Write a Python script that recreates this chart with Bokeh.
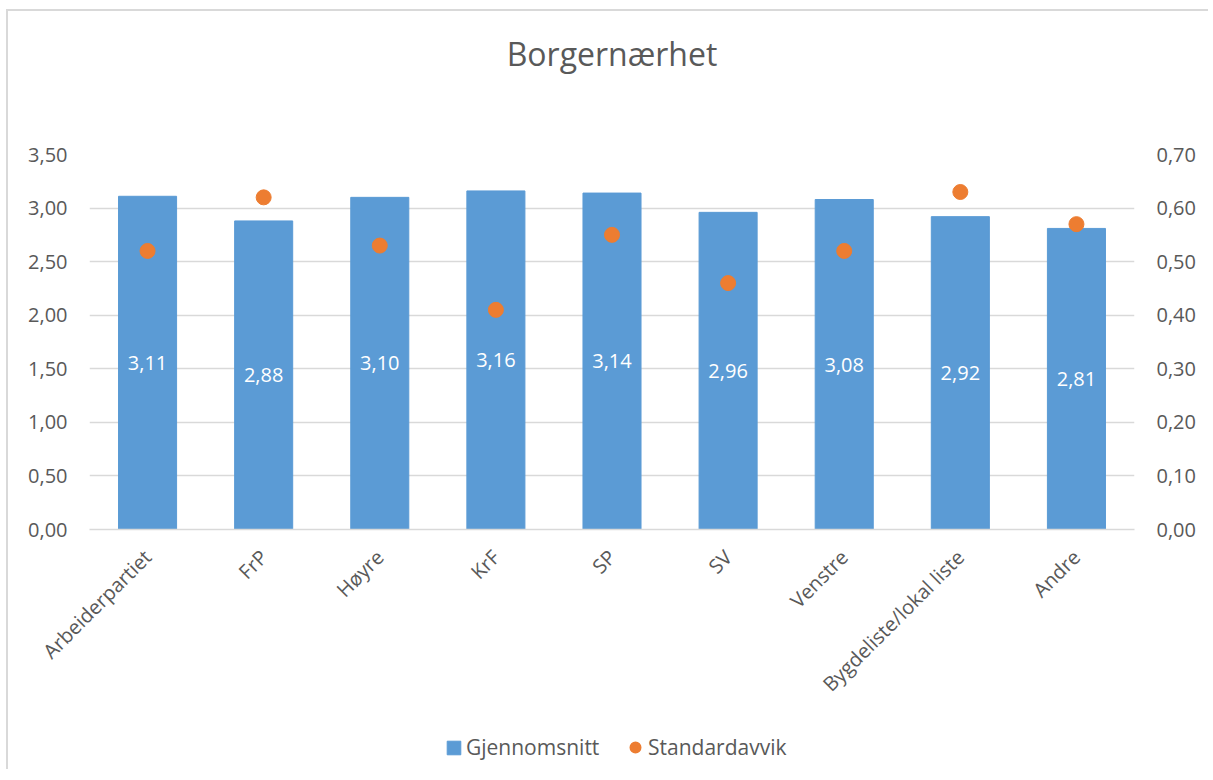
from math import pi
from bokeh.plotting import figure
from bokeh.layouts import column
from bokeh.models import (ColumnDataSource, Range1d, LinearAxis, FixedTicker,
                          CustomJSTickFormatter, LabelSet, Label, Legend, LegendItem)
from bokeh.core.properties import value
from bokeh.embed import file_html
from bokeh.resources import INLINE

# ---- data ----
categories = ["Arbeiderpartiet", "FrP", "Høyre", "KrF", "SP", "SV",
              "Venstre", "Bygdeliste/lokal liste", "Andre"]
gjennomsnitt = [3.11, 2.88, 3.10, 3.16, 3.14, 2.96, 3.08, 2.92, 2.81]
standardavvik = [0.52, 0.62, 0.53, 0.41, 0.55, 0.46, 0.52, 0.63, 0.57]
left_ticks = [0.0, 0.5, 1.0, 1.5, 2.0, 2.5, 3.0, 3.5]
right_ticks = [0.0, 0.1, 0.2, 0.3, 0.4, 0.5, 0.6, 0.7]
title_text = "Borgernærhet"
series_names = ["Gjennomsnitt", "Standardavvik"]

FONT = "Open Sans"
TXT = "#595959"
GRID = "#D9D9D9"
BLUE = "#5B9BD5"
ORANGE = "#ED7D31"

src = ColumnDataSource(dict(
    cat=categories,
    mean=gjennomsnitt,
    sd=standardavvik,
    half=[v / 2 for v in gjennomsnitt],
    lbl=[f"{v:.2f}".replace(".", ",") for v in gjennomsnitt],
))

W = 1200


def bare(fig):
    fig.outline_line_color = None
    fig.xgrid.grid_line_color = None
    fig.ygrid.grid_line_color = None
    fig.background_fill_color = "white"
    fig.border_fill_color = "white"


# ---- title strip ----
pt = figure(x_range=Range1d(0, 1), y_range=Range1d(0, 80), width=W, height=80,
            output_backend="svg", toolbar_location=None,
            x_axis_location=None, y_axis_location=None,
            min_border_left=81, min_border_right=74, min_border_top=0, min_border_bottom=0)
bare(pt)
pt.add_layout(Label(x=0.5, y=38, text=title_text, text_align="center",
                    text_baseline="alphabetic", text_font=FONT,
                    text_font_size="32px", text_color=TXT))

# ---- main chart ----
p = figure(x_range=categories, y_range=Range1d(0, 3.5),
           width=W, height=634, output_backend="svg", toolbar_location=None,
           min_border_left=81, min_border_right=74, min_border_top=63, min_border_bottom=196)
p.extra_y_ranges = {"sd": Range1d(0, 0.7)}
p.x_range.range_padding = 0
bare(p)

fmt = CustomJSTickFormatter(code="return tick.toFixed(2).replace('.', ',');")

ya = p.yaxis[0]
ya.ticker = FixedTicker(ticks=left_ticks)
ya.formatter = fmt
ya.axis_line_color = None
ya.major_tick_line_color = None
ya.minor_tick_line_color = None
ya.major_label_text_font = FONT
ya.major_label_text_font_size = "20px"
ya.major_label_text_color = TXT
ya.major_label_standoff = 16

ra = LinearAxis(y_range_name="sd", ticker=FixedTicker(ticks=right_ticks), formatter=fmt)
ra.axis_line_color = None
ra.major_tick_line_color = None
ra.minor_tick_line_color = None
ra.major_label_text_font = FONT
ra.major_label_text_font_size = "20px"
ra.major_label_text_color = TXT
ra.major_label_standoff = 16
p.add_layout(ra, "right")

xa = p.xaxis[0]
xa.axis_line_color = GRID
xa.axis_line_width = 1.5
xa.major_tick_line_color = None
xa.minor_tick_line_color = None
xa.major_label_orientation = pi / 4
xa.major_label_text_font = FONT
xa.major_label_text_font_size = "20px"
xa.major_label_text_color = TXT
xa.major_label_standoff = 18

p.ygrid.grid_line_color = GRID
p.ygrid.grid_line_width = 1.5
p.ygrid.ticker = FixedTicker(ticks=left_ticks)

bars = p.vbar(x="cat", top="mean", width=0.5, source=src,
              fill_color=BLUE, line_color=BLUE)
dots = p.scatter(x="cat", y="sd", y_range_name="sd", source=src, size=15,
                 marker="circle", fill_color=ORANGE, line_color=ORANGE)

labels = LabelSet(x="cat", y="half", text="lbl", source=src,
                  text_align="center", text_baseline="middle",
                  text_color="white", text_font=value(FONT), text_font_size="20px")
p.add_layout(labels)

# ---- legend strip (below the rotated category labels) ----
pl = figure(x_range=categories, y_range=Range1d(10, 11), width=W, height=44,
            output_backend="svg", toolbar_location=None,
            x_axis_location=None, y_axis_location=None,
            min_border_left=81, min_border_right=74, min_border_top=0, min_border_bottom=0)
bare(pl)
lbars = pl.vbar(x="cat", top="mean", width=0.5, source=src,
                fill_color=BLUE, line_color=BLUE)
ldots = pl.scatter(x="cat", y="sd", source=src, size=15, marker="circle",
                   fill_color=ORANGE, line_color=ORANGE, line_width=4)

leg_style = dict(orientation="horizontal", label_text_font=FONT,
                 label_text_font_size="21px", label_text_color=TXT,
                 border_line_color=None, background_fill_alpha=0,
                 margin=0, padding=4)
legend1 = Legend(items=[LegendItem(label=series_names[0], renderers=[lbars])],
                 location=(356, 8), glyph_width=17, glyph_height=17,
                 label_standoff=4, **leg_style)
legend2 = Legend(items=[LegendItem(label=series_names[1], renderers=[ldots])],
                 location=(536, 8), glyph_width=20, glyph_height=20,
                 label_standoff=3, **leg_style)
pl.add_layout(legend1, "center")
pl.add_layout(legend2, "center")

layout = column(pt, p, pl, spacing=0)
layout.styles = {"margin-left": "6px", "margin-top": "9px",
                 "border-left": "2px solid #D9D9D9", "border-top": "2px solid #D9D9D9"}

open("out.html", "w").write(file_html(layout, INLINE))
